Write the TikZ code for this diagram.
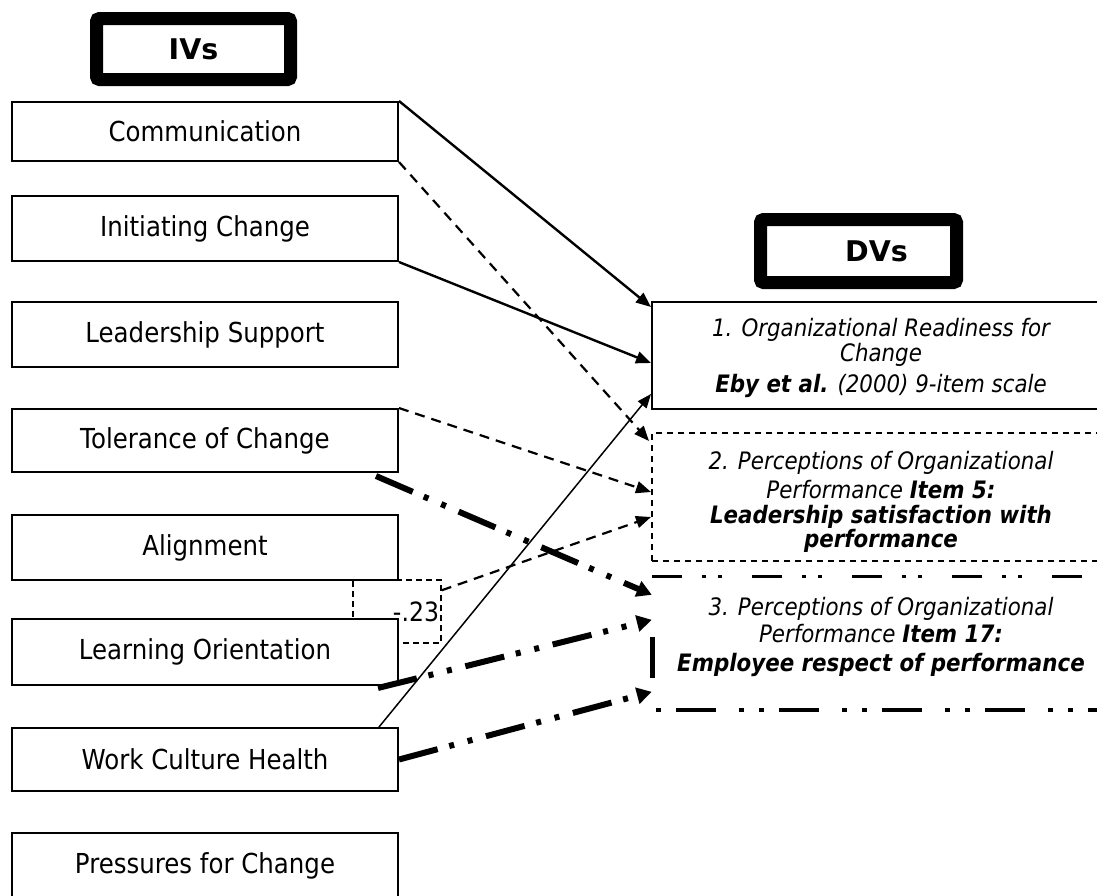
\documentclass[tikz,border=0pt]{standalone}
\usepackage{fontspec}
\setmainfont{DejaVu Sans}
\newfontfamily\narrowsans[FakeStretch=0.89]{DejaVu Sans}
\usetikzlibrary{arrows.meta,calc}
\begin{document}
\begin{tikzpicture}[x=1pt,y=-1pt,
  ivbox/.style={draw, line width=2pt, fill=white, inner sep=0pt, minimum width=386pt, font=\narrowsans\fontsize{27.5}{32}\selectfont},
  hdr/.style={draw, line width=13pt, rounded corners=3pt, inner sep=0pt, font=\bfseries\fontsize{28.5}{33}\selectfont},
  dvbox/.style={inner sep=0pt, minimum width=458pt},
  dvtext/.style={align=center, inner sep=0pt, font=\narrowsans\itshape\fontsize{24}{27}\selectfont},
  solidarr/.style={line width=2.4pt, -{Triangle[length=15pt,width=12pt]}},
  thinarr/.style={line width=1.5pt, -{Triangle[length=14pt,width=11pt]}},
  dasharr/.style={line width=2.2pt, dash pattern=on 10pt off 7pt, -{Triangle[length=15pt,width=12pt]}},
  ddarr/.style={line width=6pt, dash pattern=on 40pt off 12pt on 5pt off 14pt on 5pt off 14pt, -{Triangle[length=15pt,width=16pt]}},
  lblbox/.style={draw, line width=1.5pt, dash pattern=on 6pt off 4pt, inner sep=0pt, minimum width=88pt, minimum height=63pt, text width=84pt, align=right, font=\narrowsans\fontsize{26.5}{30}\selectfont}
]
\clip (0,0) rectangle (1097,895);

% correlation label (partly hidden by the boxes)
\node[lblbox] (r23) at (397,611.5) {-.23};

% header boxes
\node[hdr, minimum width=194pt, minimum height=61pt] (ivs) at (193.5,49) {IVs};
\node[hdr, minimum width=196pt, minimum height=63pt] (dvs) at (858.5,251) {\hspace*{36pt}DVs};

% IV boxes
\node[ivbox, minimum height=59pt] (comm) at (205,131.5) {Communication};
\node[ivbox, minimum height=65pt] (init) at (205,228.5) {Initiating Change};
\node[ivbox, minimum height=65pt] (lead) at (205,334.5) {Leadership Support};
\node[ivbox, minimum height=63pt] (tol) at (205,440.5) {Tolerance of Change};
\node[ivbox, minimum height=65pt] (alig) at (205,547.5) {Alignment};
\node[ivbox, minimum height=66pt] (learn) at (205,652) {Learning Orientation};
\node[ivbox, minimum height=63pt] (wch) at (205,759.5) {Work Culture Health};
\node[ivbox, minimum height=66pt] (press) at (205,866) {Pressures for Change};

% DV boxes
\node[dvbox, draw, line width=2pt, minimum height=107pt] (dv1) at (881,355.5) {};
\node[dvbox, draw, line width=2pt, dash pattern=on 6pt off 5pt, minimum height=128pt] (dv2) at (881,497) {};
\node[dvbox, minimum height=133pt] (dv3) at (881,643.5) {};
\draw[line width=3pt, dash pattern=on 30pt off 20pt on 4pt off 12pt on 4pt off 30pt] (dv3.north west) -- (dv3.north east);
\draw[line width=4.5pt, dash pattern=on 5pt off 15pt on 40pt off 23pt on 5pt off 15pt] ([xshift=4pt]dv3.south west) -- (dv3.south east);
\draw[line width=5pt] ($(dv3.north west)+(1,60)$) -- ($(dv3.north west)+(1,101)$);

% DV texts
\node[dvtext] (t1) at (881,358) {1. Organizational Readiness for\\[-2pt] Change\\[4pt] \textbf{Eby et al.} (2000) 9-item scale};
\node[dvtext] (t2) at (881,502) {2. Perceptions of Organizational\\[2pt] Performance \textbf{Item 5:}\\[-2pt] \textbf{Leadership satisfaction with}\\[-3pt] \textbf{performance}};
\node[dvtext] (t3) at (881,637) {3. Perceptions of Organizational\\ Performance \textbf{Item 17:}\\[2pt] \textbf{Employee respect of performance}};

% connectors
\draw[solidarr] (comm.north east) -- ([yshift=-6pt]dv1.north west);
\draw[solidarr] (init.south east) -- ([yshift=-7.5pt]dv1.west);
\draw[dasharr] (comm.south east) -- ([xshift=-2pt,yshift=-9pt]dv2.north west);
\draw[dasharr] (tol.north east) -- ([yshift=5pt]dv2.west);
\draw[dasharr] ([yshift=-11pt]r23.north east) -- ([yshift=-20pt]dv2.west);
\draw[thinarr] ([xshift=-20pt]wch.north east) -- ([yshift=16pt]dv1.south west);
\draw[ddarr] ([xshift=-23pt,yshift=-3pt]tol.south east) -- ([yshift=-18pt]dv3.north west);
\draw[ddarr] ([xshift=-21pt,yshift=-2pt]learn.south east) -- ([yshift=-43pt]dv3.north west);
\draw[ddarr] (wch.east) -- ([yshift=-115pt]dv3.north west);
\end{tikzpicture}
\end{document}
